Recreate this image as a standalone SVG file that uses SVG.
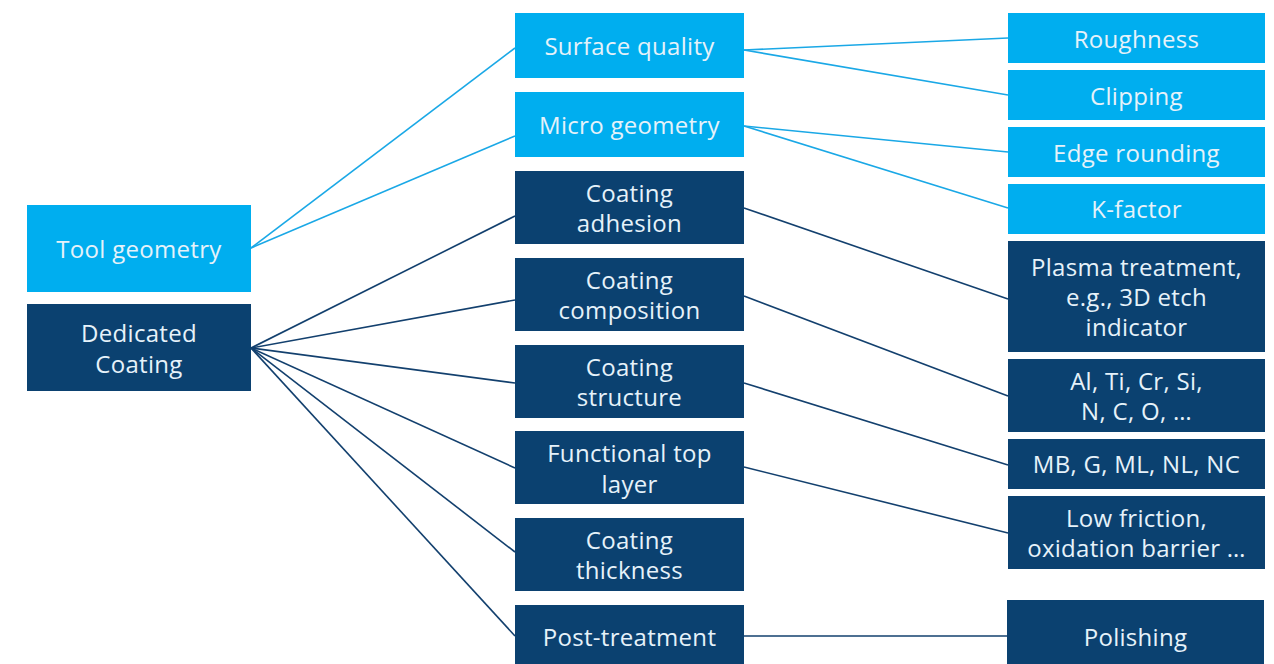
<svg xmlns="http://www.w3.org/2000/svg" width="1274" height="664" viewBox="0 0 1274 664">
<style>
.lb{fill:#00aeef}
.db{fill:#0b4170}
text{font-family:"Open Sans","Liberation Sans",sans-serif;font-size:24px;letter-spacing:0.3px;fill:#e6f2fa;text-anchor:middle}
.cl line{stroke-width:1.6}
.l{stroke:#1aa8e6}
.d{stroke:#13406e}
</style>
<rect width="1274" height="664" fill="#fff"/>
<g id="connectors" class="cl">
<line class="l" x1="251" y1="248" x2="515" y2="48"/>
<line class="l" x1="251" y1="248" x2="515" y2="136"/>
<line class="d" x1="251" y1="348" x2="515" y2="216"/>
<line class="d" x1="251" y1="348" x2="515" y2="300"/>
<line class="d" x1="251" y1="348" x2="515" y2="383"/>
<line class="d" x1="251" y1="348" x2="515" y2="468"/>
<line class="d" x1="251" y1="348" x2="515" y2="552"/>
<line class="d" x1="251" y1="348" x2="515" y2="636"/>
<line class="l" x1="744" y1="50" x2="1008" y2="38"/>
<line class="l" x1="744" y1="50" x2="1008" y2="95"/>
<line class="l" x1="744" y1="126" x2="1008" y2="152"/>
<line class="l" x1="744" y1="126" x2="1008" y2="208"/>
<line class="d" x1="744" y1="208" x2="1008" y2="299"/>
<line class="d" x1="744" y1="296" x2="1008" y2="396"/>
<line class="d" x1="744" y1="383" x2="1008" y2="465"/>
<line class="d" x1="744" y1="467" x2="1008" y2="533"/>
<line class="d" x1="744" y1="636" x2="1008" y2="636"/>
</g>
<g id="tool-geometry"><rect class="lb" x="27" y="205" width="224" height="87"/><text x="139" y="258">Tool geometry</text></g>
<g id="dedicated-coating"><rect class="db" x="27" y="304" width="224" height="87"/><text x="139" y="342">Dedicated</text><text x="139" y="373">Coating</text></g>
<g id="surface-quality"><rect class="lb" x="515" y="13" width="229" height="65"/><text x="629.5" y="55">Surface quality</text></g>
<g id="micro-geometry"><rect class="lb" x="515" y="92" width="229" height="65"/><text x="629.5" y="134">Micro geometry</text></g>
<g id="coating-adhesion"><rect class="db" x="515" y="171" width="229" height="73"/><text x="629.5" y="202">Coating</text><text x="629.5" y="232">adhesion</text></g>
<g id="coating-composition"><rect class="db" x="515" y="258" width="229" height="73"/><text x="629.5" y="289">Coating</text><text x="629.5" y="319">composition</text></g>
<g id="coating-structure"><rect class="db" x="515" y="345" width="229" height="73"/><text x="629.5" y="376">Coating</text><text x="629.5" y="406">structure</text></g>
<g id="functional-top-layer"><rect class="db" x="515" y="431" width="229" height="73"/><text x="629.5" y="462">Functional top</text><text x="629.5" y="493">layer</text></g>
<g id="coating-thickness"><rect class="db" x="515" y="518" width="229" height="73"/><text x="629.5" y="549">Coating</text><text x="629.5" y="579">thickness</text></g>
<g id="post-treatment"><rect class="db" x="515" y="605" width="229" height="59"/><text x="629.5" y="646">Post-treatment</text></g>
<g id="roughness"><rect class="lb" x="1008" y="13" width="257" height="50"/><text x="1136.5" y="48">Roughness</text></g>
<g id="clipping"><rect class="lb" x="1008" y="70" width="257" height="50"/><text x="1136.5" y="105">Clipping</text></g>
<g id="edge-rounding"><rect class="lb" x="1008" y="127" width="257" height="50"/><text x="1136.5" y="162">Edge rounding</text></g>
<g id="k-factor"><rect class="lb" x="1008" y="184" width="257" height="50"/><text x="1136.5" y="218">K-factor</text></g>
<g id="plasma-treatment"><rect class="db" x="1008" y="241" width="257" height="111"/><text x="1136.5" y="276">Plasma treatment,</text><text x="1136.5" y="306">e.g., 3D etch</text><text x="1136.5" y="336">indicator</text></g>
<g id="elements"><rect class="db" x="1008" y="359" width="257" height="73"/><text x="1136.5" y="390">Al, Ti, Cr, Si,</text><text x="1136.5" y="420">N, C, O, …</text></g>
<g id="structures"><rect class="db" x="1008" y="439" width="257" height="50"/><text x="1136.5" y="473">MB, G, ML, NL, NC</text></g>
<g id="low-friction"><rect class="db" x="1008" y="496" width="257" height="73"/><text x="1136.5" y="527">Low friction,</text><text x="1136.5" y="557">oxidation barrier …</text></g>
<g id="polishing"><rect class="db" x="1007" y="600" width="257" height="64"/><text x="1135.5" y="646">Polishing</text></g>
</svg>
